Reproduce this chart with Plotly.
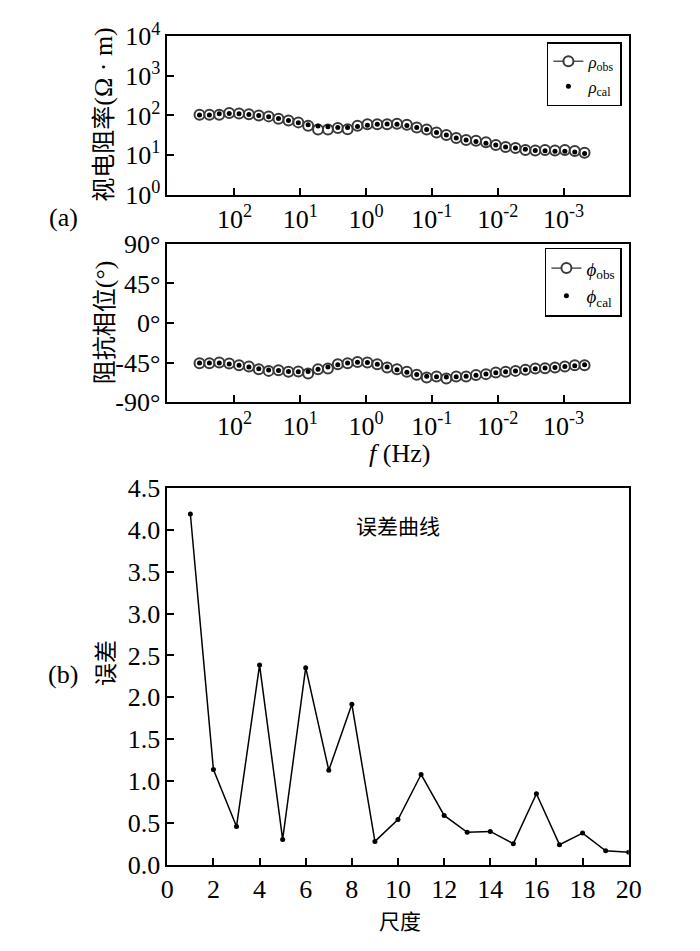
import plotly.graph_objects as go

# ---------------- data ----------------
freq_hz = [339, 240, 170, 120, 85.1, 60.3, 42.7, 30.2, 21.4, 15.1,
           10.7, 7.59, 5.37, 3.80, 2.69, 1.91, 1.35, 0.955, 0.676, 0.479,
           0.339, 0.240, 0.170, 0.120, 0.0851, 0.0603, 0.0427, 0.0302, 0.0214, 0.0151,
           0.0107, 0.00759, 0.00537, 0.00380, 0.00269, 0.00191, 0.00135, 0.000955, 0.000676, 0.000479]
rho_obs = [105, 104, 104, 115, 113, 108, 100, 95, 83, 75,
           67, 55, 44, 44, 48, 45, 55, 60, 60, 60,
           62, 58, 50, 44, 37, 32, 27, 24, 23, 21,
           18, 16, 15, 13.5, 13, 13.5, 13, 13.5, 12.7, 11.4]
rho_cal = [103, 103, 110, 112, 110, 106, 100, 93, 84, 75,
           66, 58, 54, 52, 50, 50, 53, 57, 60, 61,
           60, 56, 50, 44, 37, 32, 27, 24, 22, 20,
           18, 16, 15, 14, 13, 12.8, 12.5, 12.5, 12, 11]
phase_obs = [-45.7, -45.7, -45, -46, -48, -49.5, -52.5, -54.4, -53.6, -55.5,
             -55, -57.4, -52.5, -51.7, -46.9, -45.7, -44.2, -45, -46.9, -50.6,
             -52.5, -55.5, -58.9, -61.9, -60.7, -63, -60.7, -60.7, -59.2, -58.1,
             -56.2, -55.5, -54.4, -53.2, -51.7, -51.4, -50.6, -49.5, -48, -48]
phase_cal = [-45.5, -45.5, -45.5, -46.5, -48, -50, -52, -53.5, -54, -55,
             -55.5, -55, -52.5, -50, -47.5, -45.5, -44.5, -45, -47, -50,
             -53, -56, -58.5, -60.5, -61, -61.5, -61, -60.5, -59.5, -58,
             -56.5, -55.5, -54.5, -53, -52, -51, -50.5, -49.5, -48.5, -47.5]

scales = [1, 2, 3, 4, 5, 6, 7, 8, 9, 10, 11, 12, 13, 14, 15, 16, 17, 18, 19, 20]
errors = [4.19, 1.135, 0.454, 2.385, 0.30, 2.354, 1.127, 1.915, 0.277, 0.538,
          1.077, 0.588, 0.385, 0.396, 0.25, 0.846, 0.238, 0.377, 0.165, 0.146]

f_tickvals = [100, 10, 1, 0.1, 0.01, 0.001]
f_ticktext = ["10<sup>2</sup>", "10<sup>1</sup>", "10<sup>0</sup>",
              "10<sup>-1</sup>", "10<sup>-2</sup>", "10<sup>-3</sup>"]
rho_tickvals = [1, 10, 100, 1000, 10000]
rho_ticktext = ["10<sup>0</sup>", "10<sup>1</sup>", "10<sup>2</sup>",
                "10<sup>3</sup>", "10<sup>4</sup>"]
ph_tickvals = [-90, -45, 0, 45, 90]
ph_ticktext = ["-90°", "-45°", "0°", "45°", "90°"]
err_tickvals = [0, 0.5, 1.0, 1.5, 2.0, 2.5, 3.0, 3.5, 4.0, 4.5]
err_ticktext = ["0.0", "0.5", "1.0", "1.5", "2.0", "2.5", "3.0", "3.5", "4.0", "4.5"]
sc_tickvals = [0, 2, 4, 6, 8, 10, 12, 14, 16, 18, 20]

# ---------------- figure ----------------
W, H = 700, 951
SERIF = "Liberation Serif"
CJK = "Noto Sans CJK SC"

def py(px):
    return 1 - px / H

def pxx(px):
    return px / W

fig = go.Figure()

obs_marker = dict(symbol="circle", size=10, color="white", line=dict(color="#3a3a3a", width=2))
cal_marker = dict(symbol="circle", size=5, color="black")

fig.add_trace(go.Scatter(x=freq_hz, y=rho_obs, mode="lines+markers",
                         name="<i>ρ</i><sub>obs</sub>",
                         line=dict(color="black", width=1), marker=obs_marker,
                         xaxis="x", yaxis="y", legend="legend"))
fig.add_trace(go.Scatter(x=freq_hz, y=rho_cal, mode="markers",
                         name="<i>ρ</i><sub>cal</sub>",
                         marker=cal_marker, xaxis="x", yaxis="y", legend="legend"))
fig.add_trace(go.Scatter(x=freq_hz, y=phase_obs, mode="lines+markers",
                         name="<i>ϕ</i><sub>obs</sub>",
                         line=dict(color="black", width=1), marker=obs_marker,
                         xaxis="x2", yaxis="y2", legend="legend2"))
fig.add_trace(go.Scatter(x=freq_hz, y=phase_cal, mode="markers",
                         name="<i>ϕ</i><sub>cal</sub>",
                         marker=cal_marker, xaxis="x2", yaxis="y2", legend="legend2"))
fig.add_trace(go.Scatter(x=scales, y=errors, mode="lines+markers", showlegend=False,
                         line=dict(color="black", width=1.5), marker=dict(size=5, color="black"),
                         xaxis="x3", yaxis="y3"))

xdom = [pxx(165), pxx(640)]
axis_common = dict(showline=True, linecolor="black", linewidth=1.5, mirror=True,
                   ticks="inside", ticklen=7, tickwidth=1.5, tickcolor="black",
                   showgrid=False, zeroline=False,
                   tickfont=dict(family=SERIF, size=26, color="black"))

fig.update_layout(
    width=W, height=H,
    margin=dict(l=0, r=0, t=0, b=0),
    paper_bgcolor="white", plot_bgcolor="white",
    xaxis=dict(domain=xdom, anchor="y", type="log", range=[3.02, -3.99],
               tickvals=f_tickvals, ticktext=f_ticktext, **axis_common),
    yaxis=dict(domain=[py(183), py(19)], anchor="x", type="log", range=[0, 4],
               tickvals=rho_tickvals, ticktext=rho_ticktext, **axis_common),
    xaxis2=dict(domain=xdom, anchor="y2", type="log", range=[3.02, -3.99],
                tickvals=f_tickvals, ticktext=f_ticktext, **axis_common),
    yaxis2=dict(domain=[py(398), py(234)], anchor="x2", range=[-90, 90],
                tickvals=ph_tickvals, ticktext=ph_ticktext, **axis_common),
    xaxis3=dict(domain=xdom, anchor="y3", range=[0, 20],
                tickvals=sc_tickvals, **axis_common),
    yaxis3=dict(domain=[py(877), py(487)], anchor="x3", range=[0, 4.5],
                tickvals=err_tickvals, ticktext=err_ticktext, **axis_common),
    legend=dict(x=pxx(633), y=py(25), xanchor="right", yanchor="top",
                bordercolor="black", borderwidth=1.5, bgcolor="white",
                font=dict(family=SERIF, size=17, color="black"),
                itemwidth=30, tracegroupgap=0),
    legend2=dict(x=pxx(633), y=py(238), xanchor="right", yanchor="top",
                 bordercolor="black", borderwidth=1.5, bgcolor="white",
                 font=dict(family=SERIF, size=19, color="black"),
                 itemwidth=30, tracegroupgap=0),
)

ann = []
def add_text(text, x, y, size, family, angle=0, xanchor="center"):
    ann.append(dict(text=text, x=pxx(x), y=py(y), xref="paper", yref="paper",
                    showarrow=False, textangle=angle, xanchor=xanchor, yanchor="middle",
                    font=dict(family=family, size=size, color="black")))

add_text("视电阻率<span style='font-family:Liberation Serif;font-size:26px'>(Ω · m)</span>",
         97, 100, 24, CJK, -90)
add_text("阻抗相位<span style='font-family:Liberation Serif;font-size:26px'>(°)</span>",
         98, 315, 24, CJK, -90)
add_text("误差", 100, 668, 23, CJK, -90)
add_text("(a)", 58, 207, 26, SERIF)
add_text("(b)", 58, 680, 26, SERIF)
add_text("<i>f</i> (Hz)", 404, 451, 26, SERIF)
add_text("尺度", 405, 934, 21, CJK)
add_text("误差曲线", 402, 525, 21, CJK)
fig.update_layout(annotations=ann)

fig.write_html("out.html", config={"displayModeBar": False},
               post_script="document.body.style.margin='0';")
